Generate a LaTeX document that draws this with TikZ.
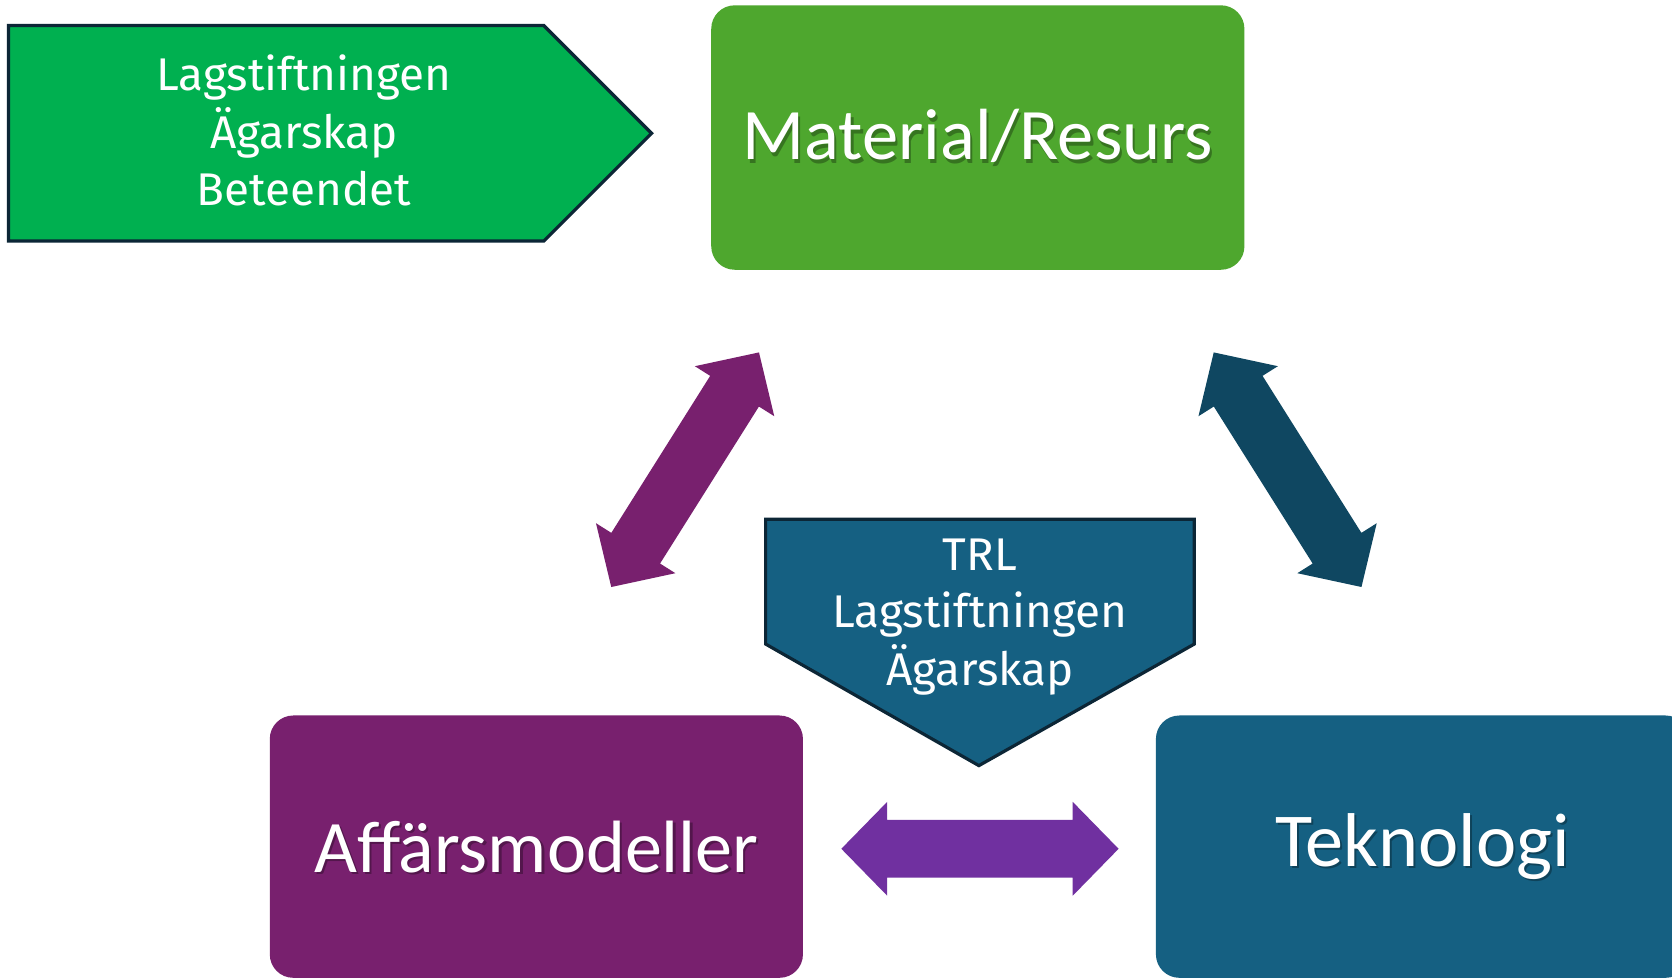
\documentclass[tikz,border=0pt]{standalone}
\usepackage{fontspec}
\setmainfont{Carlito}
\newfontfamily\smallfont{Fira Sans}
\definecolor{cGreen}{HTML}{00B050}
\definecolor{cMat}{HTML}{4EA72E}
\definecolor{cAff}{HTML}{78206E}
\definecolor{cTek}{HTML}{156082}
\definecolor{cHarr}{HTML}{7030A0}
\definecolor{cRarr}{HTML}{0F4761}
\definecolor{cBorder}{HTML}{0C2636}
\tikzset{
  bigbox/.style={rectangle, rounded corners=22pt, minimum width=500pt, minimum height=248pt, inner sep=0pt},
  biglbl/.style={text=white, font=\fontsize{68}{80}\selectfont, inner sep=0pt},
  bigshadow/.style={text=black, opacity=0.3, font=\fontsize{68}{80}\selectfont, inner sep=0pt},
  penta/.style={line width=3pt, draw=cBorder, line join=miter},
  smalllbl/.style={text=white, align=center, font=\smallfont\fontsize{43}{54}\selectfont, inner sep=0pt},
  dblarr/.pic={\fill (-130,0) -- (-87,44) -- (-87,27) -- (87,27) -- (87,44) -- (130,0) -- (87,-44) -- (87,-27) -- (-87,-27) -- (-87,-44) -- cycle;}
}
\begin{document}
\begin{tikzpicture}[x=1pt,y=1pt]
\useasboundingbox (0,0) rectangle (1568,917);
\fill[white] (0,0) rectangle (1568,917);
\clip (0,0) rectangle (1568,917);

% green pentagon
\fill[cGreen, penta] (8,893) -- (510,893) -- (611,792) -- (510,691) -- (8,691) -- cycle;
\node[smalllbl] (law1) at (285,794.5) {Lagstiftningen\\Ägarskap\\Beteendet};

% Material/Resurs
\node[bigbox, fill=cMat] (mat) at (917,788) {};
\node[bigshadow] (matsh) at (919,786) {Material/Resurs};
\node[biglbl] (matlbl) at (917,790) {Material/Resurs};

% Affärsmodeller
\node[bigbox, fill=cAff, minimum height=246pt] (aff) at (503,123) {};
\node[bigshadow, font=\fontsize{69.5}{80}\selectfont] (affsh) at (505,121) {Affärsmodeller};
\node[biglbl, font=\fontsize{69.5}{80}\selectfont] (afflbl) at (aff) {Affärsmodeller};

% Teknologi
\node[bigbox, fill=cTek, minimum height=246pt] (tek) at (1334,123) {};
\node[bigshadow, font=\fontsize{71.5}{80}\selectfont] (teksh) at (1336,121) {Teknologi};
\node[biglbl, font=\fontsize{71.5}{80}\selectfont] (teklbl) at (tek) {Teknologi};

% TRL pentagon
\fill[cTek, penta] (718,430) -- (1120,430) -- (1120,313) -- (918,199) -- (718,313) -- cycle;
\node[smalllbl] (law2) at (919,338.5) {TRL\\Lagstiftningen\\Ägarskap};

% arrows
\pic[fill=cAff, rotate=57.8] (arrL) at (642.5,476.5) {dblarr};
\pic[fill=cRarr, rotate=-57.8] (arrR) at (1207.5,476.5) {dblarr};
\pic[fill=cHarr] (arrH) at (919,121) {dblarr};
\end{tikzpicture}
\end{document}
